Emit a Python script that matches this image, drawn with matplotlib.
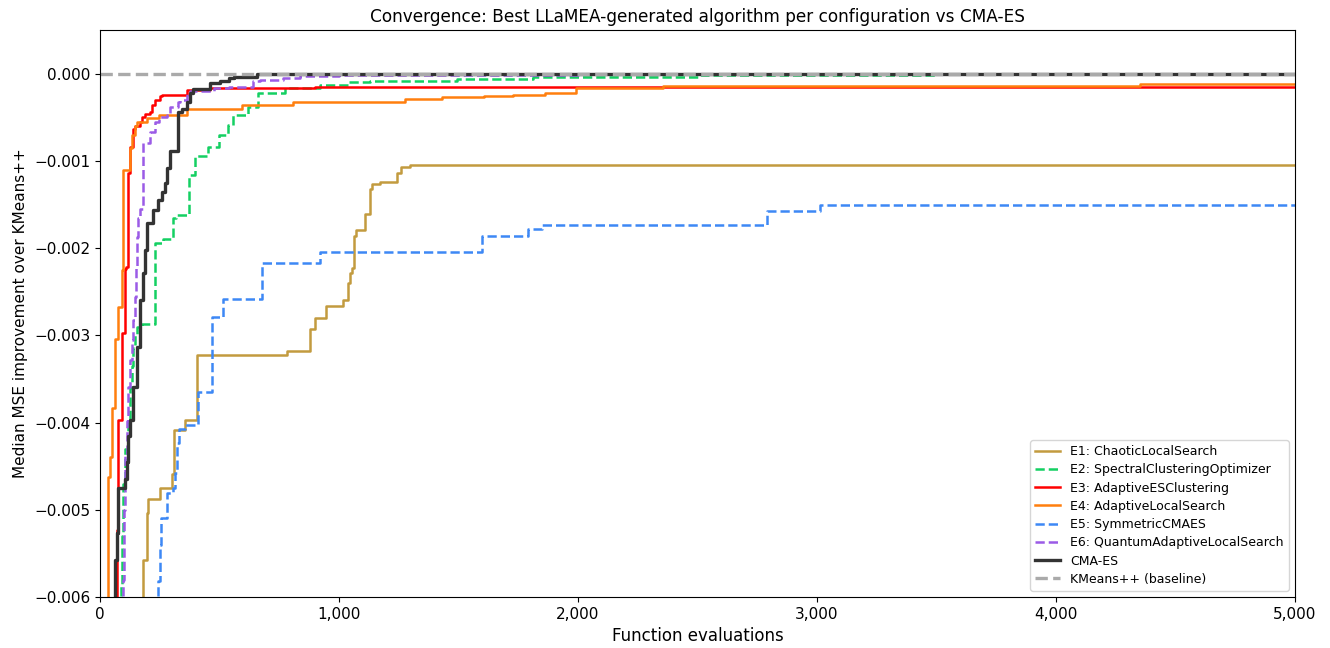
import matplotlib.pyplot as plt
from matplotlib.ticker import FuncFormatter

# Best-so-far median MSE improvement over KMeans++ (step curves, eval -> value)
e1_x = [0, 180, 197, 201, 251, 301, 310, 356, 406, 782, 879, 900, 946, 1017,
        1038, 1046, 1054, 1063, 1071, 1109, 1130, 1138, 1172, 1243, 1259, 1297, 5000]
e1_y = [-0.0090, -0.00558, -0.00504, -0.00488, -0.00475, -0.00459, -0.00408,
        -0.00397, -0.00322, -0.00318, -0.00293, -0.00280, -0.00266, -0.00260,
        -0.00240, -0.00229, -0.00223, -0.00186, -0.00179, -0.00161, -0.00132,
        -0.00127, -0.00124, -0.00114, -0.00107, -0.00105, -0.00105]

e2_x = [0, 88, 92, 96, 105, 117, 126, 134, 138, 146, 155, 176, 230, 264, 305,
        318, 372, 397, 452, 498, 536, 556, 619, 661, 774, 920, 1038, 1130, 1494,
        1812, 2510, 3500, 5000]
e2_y = [-0.0090, -0.00585, -0.00530, -0.00470, -0.00430, -0.00400, -0.00360,
        -0.00335, -0.00315, -0.00300, -0.00291, -0.00287, -0.00194, -0.00190,
        -0.00165, -0.00162, -0.00116, -0.00095, -0.00084, -0.00070, -0.00059,
        -0.00047, -0.00038, -0.00022, -0.00017, -0.000126, -0.00010, -0.00009,
        -0.000057, -0.000034, -0.00002, -0.00001, -0.00001]

e3_x = [0, 71, 75, 92, 105, 109, 117, 126, 138, 146, 167, 176, 188, 209, 218,
        230, 251, 259, 364, 460, 900, 5000]
e3_y = [-0.0090, -0.00523, -0.00397, -0.00297, -0.00224, -0.00222, -0.00114,
        -0.00084, -0.00064, -0.00060, -0.00055, -0.00050, -0.00046, -0.00044,
        -0.00036, -0.00030, -0.00026, -0.00024, -0.00019, -0.00016, -0.00015,
        -0.00015]

e4_x = [0, 33, 42, 50, 63, 75, 92, 96, 126, 134, 146, 155, 197, 247, 364, 594,
        807, 1276, 1431, 1607, 1728, 1862, 1992, 2355, 4351, 5000]
e4_y = [-0.0090, -0.00462, -0.00440, -0.00383, -0.00304, -0.00268, -0.00225,
        -0.00110, -0.00085, -0.00070, -0.00060, -0.00056, -0.00051, -0.00048,
        -0.00040, -0.00036, -0.00032, -0.00029, -0.00027, -0.00026, -0.00025,
        -0.00022, -0.00016, -0.00014, -0.00012, -0.00012]

e5_x = [0, 243, 251, 255, 280, 305, 314, 322, 331, 356, 410, 469, 515, 678,
        920, 1598, 1791, 1849, 2791, 3012, 5000]
e5_y = [-0.0090, -0.00582, -0.00540, -0.00510, -0.00481, -0.00475, -0.00458,
        -0.00424, -0.00407, -0.00403, -0.00365, -0.00279, -0.00258, -0.00217,
        -0.00205, -0.00186, -0.00178, -0.00173, -0.00157, -0.00151, -0.00151]

e6_x = [0, 96, 100, 105, 113, 117, 126, 134, 138, 146, 150, 155, 159, 167, 180,
        209, 230, 247, 280, 293, 326, 335, 364, 377, 477, 540, 640, 670, 766,
        837, 1000, 2000, 5000]
e6_y = [-0.0090, -0.00580, -0.00500, -0.00435, -0.00398, -0.00359, -0.00328,
        -0.00305, -0.00282, -0.00256, -0.00221, -0.00187, -0.00165, -0.00155,
        -0.00080, -0.00067, -0.00055, -0.00050, -0.00047, -0.00038, -0.00033,
        -0.00030, -0.00022, -0.00020, -0.00016, -0.00015, -0.00009, -0.00007,
        -0.00005, -0.00003, -0.00002, -0.00001, -0.00001]

cma_x = [0, 63, 71, 75, 105, 113, 117, 126, 138, 155, 167, 180, 188, 197, 222,
         243, 259, 272, 280, 293, 326, 343, 364, 377, 389, 460, 500, 540, 560,
         657, 800, 5000]
cma_y = [-0.0090, -0.00558, -0.00527, -0.00475, -0.00465, -0.00445, -0.00415,
         -0.00397, -0.00359, -0.00313, -0.00259, -0.00228, -0.00202, -0.00171,
         -0.00156, -0.00145, -0.00136, -0.00125, -0.00108, -0.00089, -0.00044,
         -0.00040, -0.00033, -0.00022, -0.00018, -0.00011, -0.00008, -0.00005,
         -0.00004, -0.00001, 0.0, 0.0]

series = [
    ('E1: ChaoticLocalSearch', e1_x, e1_y, '#c29b3f', '-'),
    ('E2: SpectralClusteringOptimizer', e2_x, e2_y, '#14d062', '--'),
    ('E3: AdaptiveESClustering', e3_x, e3_y, '#ff0000', '-'),
    ('E4: AdaptiveLocalSearch', e4_x, e4_y, '#ff7f0e', '-'),
    ('E5: SymmetricCMAES', e5_x, e5_y, '#3d88f5', '--'),
    ('E6: QuantumAdaptiveLocalSearch', e6_x, e6_y, '#9b5be6', '--'),
]

fig = plt.figure(figsize=(13.3, 6.48), dpi=100)
ax = fig.add_axes([0.0752, 0.0787, 0.8985, 0.875])  # llx, lly, w, h

for name, xs, ys, color, ls in series:
    ax.plot(xs, ys, drawstyle='steps-post', color=color, linestyle=ls,
            linewidth=1.8, label=name)
ax.plot(cma_x, cma_y, drawstyle='steps-post', color='#333333',
        linewidth=2.4, label='CMA-ES')
ax.axhline(0.0, color='#aaaaaa', linestyle='--', linewidth=2.4,
           label='KMeans++ (baseline)')

ax.set_xlim(0, 5000)
ax.set_ylim(-0.006, 0.0005)
ax.set_xticks(range(0, 5001, 1000))
ax.set_yticks([-0.006, -0.005, -0.004, -0.003, -0.002, -0.001, 0.0])
ax.xaxis.set_major_formatter(FuncFormatter(lambda v, p: f'{int(v):,}'))
ax.yaxis.set_major_formatter(
    FuncFormatter(lambda v, p: f'{v:.3f}'.replace('-', '\u2212')))
ax.tick_params(labelsize=11)

ax.set_xlabel('Function evaluations', fontsize=12)
ax.set_ylabel('Median MSE improvement over KMeans++', fontsize=11)
ax.set_title('Convergence: Best LLaMEA-generated algorithm per configuration vs CMA-ES',
             fontsize=12.2)
ax.legend(loc='lower right', fontsize=9, labelspacing=0.42)

fig.savefig('out.png', dpi=100)
